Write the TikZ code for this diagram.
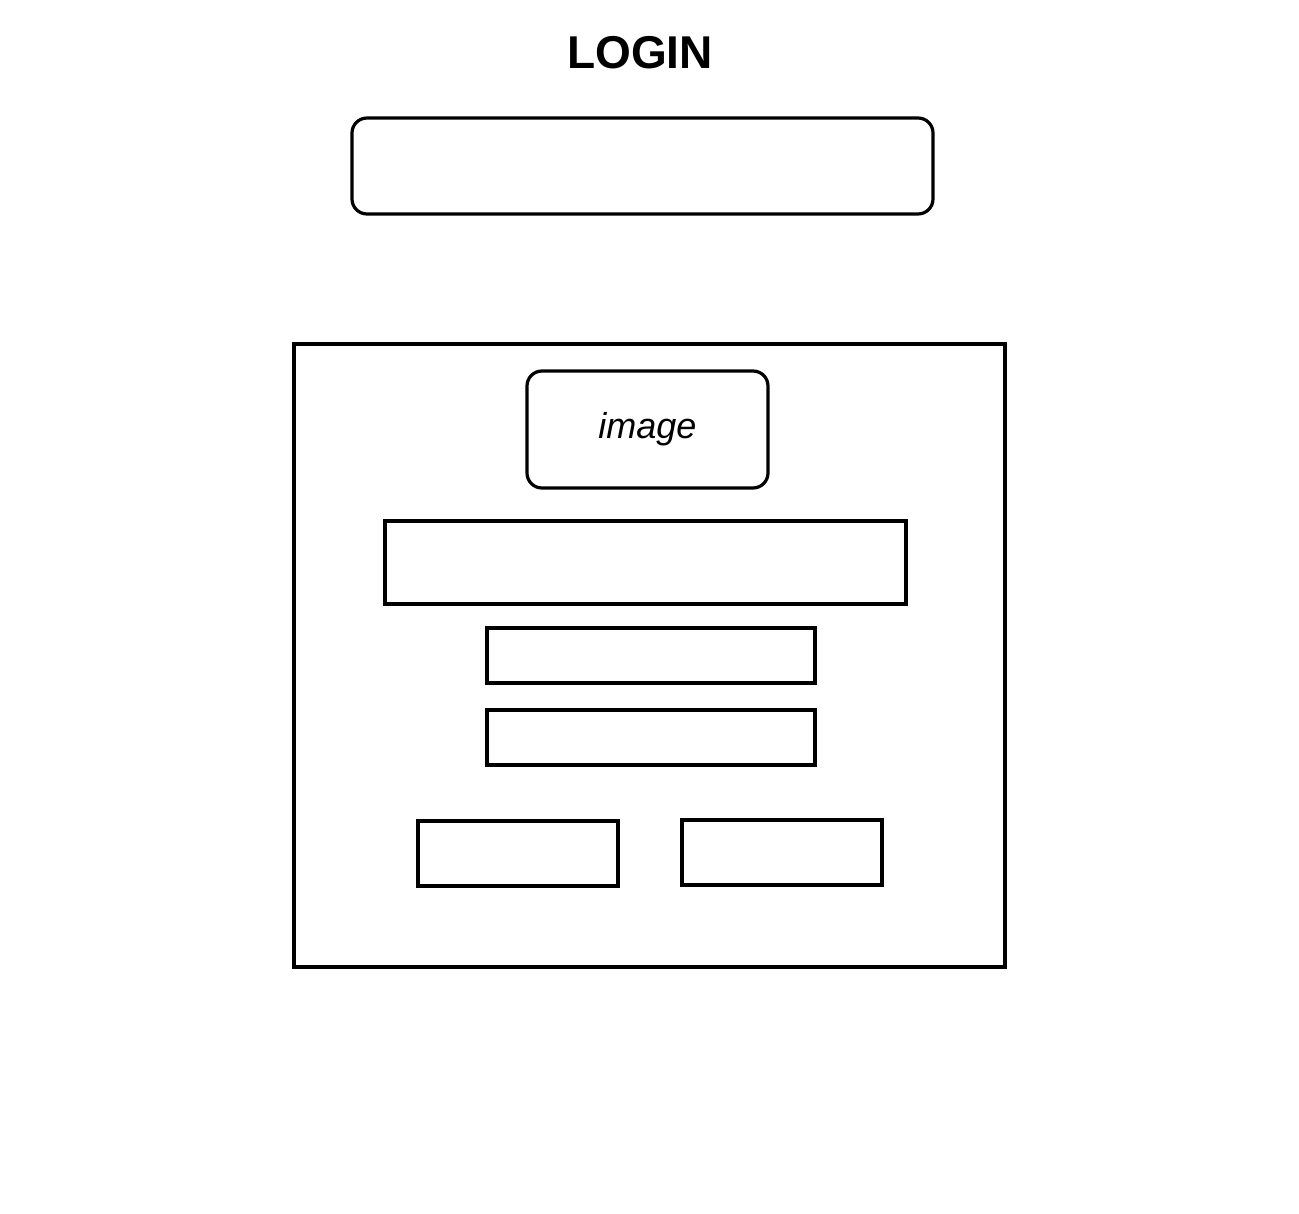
\documentclass[tikz,border=0pt]{standalone}
\usepackage{fontspec}
\setmainfont{Liberation Sans}
\begin{document}
\begin{tikzpicture}[x=1pt,y=-1pt,
  box/.style={draw=black, line width=3.2pt, rectangle, inner sep=0pt},
  rbox/.style={box, rounded corners=15pt},
  lbl/.style={inner sep=0pt}]
\useasboundingbox[fill=white] (0,0) rectangle (1299,1214);
\node[lbl, font=\fontsize{46}{50}\selectfont\bfseries] (title) at (640,53) {LOGIN};
\node[rbox, minimum width=581pt, minimum height=96pt] (search) at (642.5,166) {};
\node[box, minimum width=711pt, minimum height=623pt] (panel) at (649.5,655.5) {};
\node[rbox, minimum width=241pt, minimum height=117pt, font=\fontsize{36}{40}\selectfont\itshape] (img) at (647.5,429.5) {image};
\node[box, minimum width=521pt, minimum height=83pt] (field1) at (645.5,562.5) {};
\node[box, minimum width=328pt, minimum height=55pt] (field2) at (651,655.5) {};
\node[box, minimum width=328pt, minimum height=55pt] (field3) at (651,737.5) {};
\node[box, minimum width=200pt, minimum height=65pt] (btn1) at (518,853.5) {};
\node[box, minimum width=200pt, minimum height=65pt] (btn2) at (782,852.5) {};
\end{tikzpicture}
\end{document}
